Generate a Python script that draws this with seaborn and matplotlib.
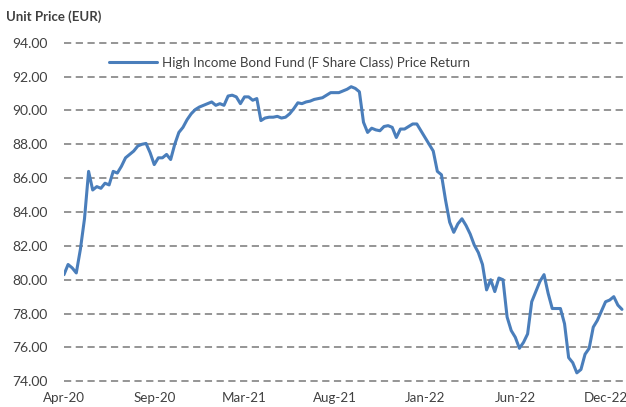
import pandas as pd
import matplotlib
matplotlib.use("Agg")
from matplotlib import pyplot as plt
import seaborn as sns

# weekly unit prices, Apr-20 .. Dec-22
prices = [80.3, 80.9, 80.7, 80.4, 81.8, 83.6, 86.4, 85.3, 85.5, 85.4,
          85.7, 85.6, 86.4, 86.3, 86.7, 87.2, 87.4, 87.6, 87.9, 88.0,
          88.05, 87.5, 86.8, 87.2, 87.2, 87.4, 87.1, 88.0, 88.7, 89.0,
          89.45, 89.8, 90.05, 90.2, 90.3, 90.4, 90.5, 90.3, 90.4, 90.3,
          90.85, 90.9, 90.8, 90.4, 90.8, 90.8, 90.6, 90.7, 89.4, 89.55,
          89.6, 89.6, 89.65, 89.55, 89.6, 89.8, 90.1, 90.45, 90.4, 90.5,
          90.55, 90.65, 90.7, 90.75, 90.9, 91.05, 91.05, 91.05, 91.15, 91.25,
          91.4, 91.3, 91.1, 89.3, 88.7, 88.95, 88.85, 88.8, 89.05, 89.1,
          89.0, 88.4, 88.9, 88.9, 89.05, 89.2, 89.2, 88.8, 88.4, 88.0,
          87.6, 86.4, 86.2, 84.7, 83.4, 82.8, 83.3, 83.6, 83.2, 82.7,
          82.05, 81.6, 80.9, 79.4, 80.0, 79.3, 80.1, 80.0, 77.8, 77.0,
          76.6, 75.95, 76.3, 76.8, 78.7, 79.3, 79.9, 80.3, 79.2, 78.3,
          78.3, 78.3, 77.4, 75.4, 75.1, 74.5, 74.7, 75.6, 75.95, 77.2,
          77.6, 78.15, 78.7, 78.8, 79.0, 78.5, 78.25]
tick_labels = ["Apr-20", "Sep-20", "Mar-21", "Aug-21", "Jan-22", "Jun-22", "Dec-22"]
tick_pos = [0, 22, 44, 66, 88, 110, 132]
y_ticks = [74, 76, 78, 80, 82, 84, 86, 88, 90, 92, 94]
series_name = "High Income Bond Fund (F Share Class) Price Return"

df = pd.DataFrame({"week": range(len(prices)), "price": prices})

sns.set_style("white")
plt.rcParams['font.family'] = ['Lato', 'DejaVu Sans']

fig = plt.figure(figsize=(6.26, 4.07), dpi=100)
ax = fig.add_axes([0.1022, 0.0631, 0.894, 0.832])

sns.lineplot(data=df, x="week", y="price", ax=ax, color="#4A7EBB",
             linewidth=2.2, label=series_name)

ax.set_xlim(0, 136.4)
ax.set_ylim(74, 94)
ax.set_yticks(y_ticks)
ax.set_yticklabels([f"{v:.2f}" for v in y_ticks])
ax.set_xticks(tick_pos)
ax.set_xticklabels(tick_labels)
ax.tick_params(axis="both", length=0, colors="#404040")
ax.tick_params(axis="y", pad=12, labelsize=10)
ax.tick_params(axis="x", pad=8, labelsize=9.6)
ax.set_xlabel("")
ax.set_ylabel("")
for v in y_ticks:
    ax.axhline(v, color="#8c8c8c", linewidth=1.3, linestyle=(0, (4, 2.5)), zorder=0, clip_on=False)
for s in ax.spines.values():
    s.set_visible(False)

ax.legend(loc="upper left", bbox_to_anchor=(0.059, 0.995), frameon=False,
          fontsize=9.6, handlelength=3.6, handletextpad=0.4, labelcolor="#404040")

fig.text(0.01, 0.96, "Unit Price (EUR)", fontsize=9.5, fontweight="bold",
         color="#404040", va="center", ha="left")

fig.savefig("out.png", dpi=100)
